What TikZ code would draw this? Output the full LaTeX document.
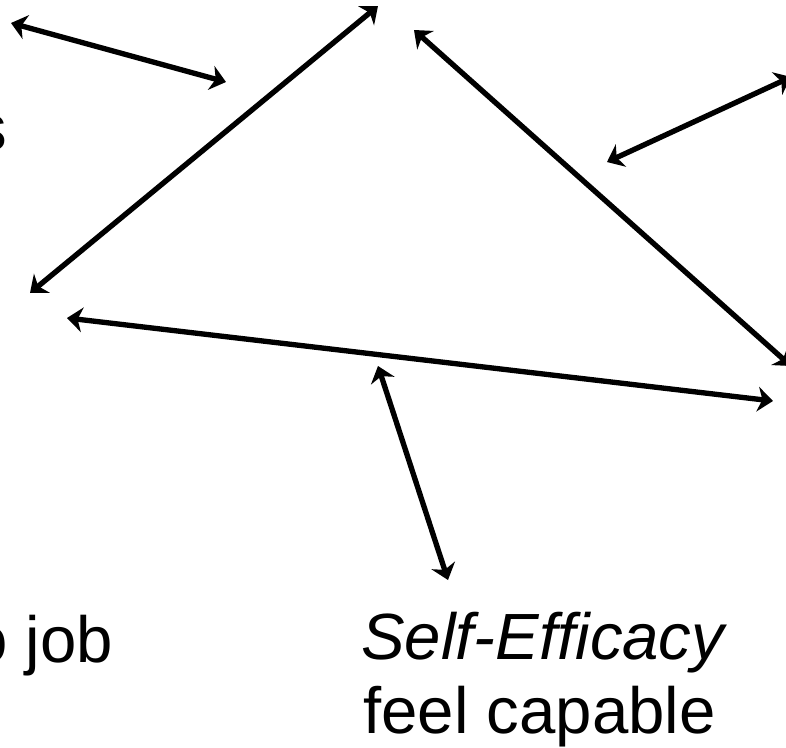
\documentclass[tikz,border=0pt]{standalone}
\usepackage{fontspec}
\setmainfont{Liberation Sans}
\usetikzlibrary{arrows.meta}

\tikzset{
	link/.style={line width=4pt, {Stealth[length=11.5pt, width=18.5pt, inset=3.5pt]}-{Stealth[length=11.5pt, width=18.5pt, inset=3.5pt]}},
	lbl/.style={inner sep=0pt, anchor=base west, font=\fontsize{49}{58}\selectfont}
}

\begin{document}
\begin{tikzpicture}[x=0.75pt, y=-0.75pt]
			\useasboundingbox (0, 0) rectangle (786, 747);
			% ends of the connectors
			\coordinate (tlA) at (11, 23);
			\coordinate (tlB) at (226, 82);
			\coordinate (apexL) at (378, 6);
			\coordinate (baseL) at (30, 293);
			\coordinate (apexR) at (414, 30);
			\coordinate (baseR) at (791, 366);
			\coordinate (trA) at (607, 162);
			\coordinate (trB) at (791, 77);
			\coordinate (botL) at (67, 318);
			\coordinate (botR) at (773, 401);
			\coordinate (midB) at (378, 366);
			\coordinate (selfT) at (448, 580);
			% labels
			\node[lbl] (lefttop) at (-26, 150) {s};
			\node[lbl] (job) at (-29, 662) {o job};
			\node[lbl] (self) at (361, 659) {\itshape Self-Efficacy};
			\node[lbl] (capable) at (363, 733) {feel capable};
			% connectors
			\foreach \a/\b in {tlA/tlB, apexL/baseL, apexR/baseR, trA/trB, botL/botR, midB/selfT}
			\draw[link] (\a) -- (\b);
			\end{tikzpicture}
\end{document}
